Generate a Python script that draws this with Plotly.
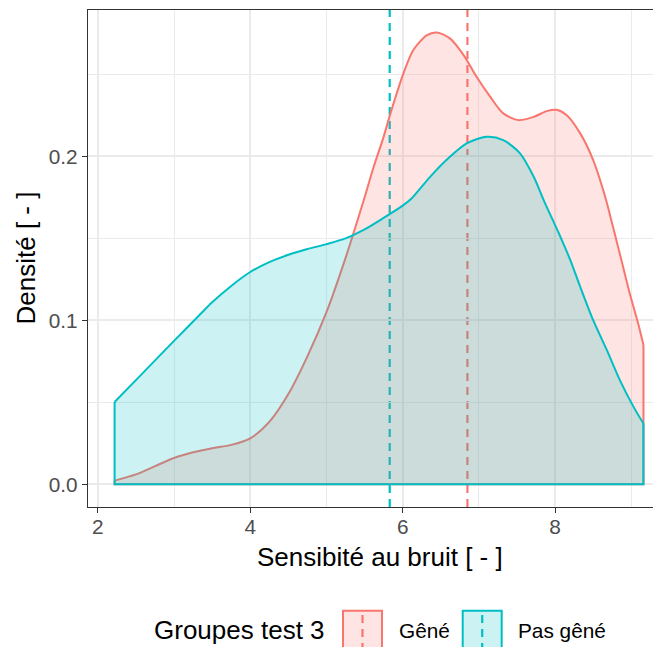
import plotly.graph_objects as go

# ---------------- data ----------------
groups = ["Gêné", "Pas gêné"]
group_means = [6.85, 5.83]

gene_x = [2.22, 2.5, 2.75, 3.0, 3.25, 3.5, 3.75, 4.0, 4.25, 4.5, 4.75, 5.0,
          5.25, 5.49, 5.62, 5.75, 5.84, 6.01, 6.14, 6.32, 6.45, 6.62, 6.80,
          6.97, 7.15, 7.32, 7.52, 7.72, 7.89, 8.02, 8.15, 8.33, 8.50, 8.66,
          8.76, 8.87, 8.98, 9.09, 9.16]
gene_y = [0.0022, 0.006, 0.011, 0.016, 0.0195, 0.022, 0.024, 0.028, 0.038,
          0.055, 0.078, 0.105, 0.138, 0.1734, 0.1937, 0.212, 0.2263, 0.2507,
          0.265, 0.2741, 0.2757, 0.2721, 0.2619, 0.2487, 0.2364, 0.2263,
          0.2222, 0.2242, 0.2277, 0.2285, 0.2253, 0.2141, 0.1978, 0.175,
          0.1571, 0.1368, 0.1164, 0.0981, 0.0849]

pas_x = [2.22, 2.5, 3.0, 3.35, 3.5, 3.75, 4.0, 4.25, 4.5, 4.75, 5.0, 5.25,
         5.5, 5.75, 6.0, 6.12, 6.36, 6.62, 6.84, 7.10, 7.32, 7.54, 7.72,
         7.85, 8.07, 8.20, 8.33, 8.50, 8.68, 8.85, 9.03, 9.16]
pas_y = [0.0502, 0.0635, 0.0875, 0.104, 0.111, 0.121, 0.1295, 0.1355, 0.140,
         0.1435, 0.1465, 0.150, 0.1555, 0.1625, 0.170, 0.1745, 0.1876,
         0.1998, 0.208, 0.212, 0.210, 0.2019, 0.1876, 0.1734, 0.151, 0.1368,
         0.1205, 0.1001, 0.0818, 0.0635, 0.0472, 0.037]

x_ticks = [2, 4, 6, 8]
y_ticks = [0.0, 0.1, 0.2]
y_tick_labels = ["0.0", "0.1", "0.2"]

x_title = "Sensibité au bruit [ - ]"
y_title = "Densité [ - ]"
legend_title = "Groupes test 3"

# ---------------- styling ----------------
line_colors = ["#F8766D", "#00BFC4"]
fill_colors = ["rgba(248,118,109,0.2)", "rgba(0,191,196,0.2)"]
FONT = "Liberation Sans, Arial, sans-serif"

OFF = 8  # default page body margin
W, H = 661 - OFF, 647 - OFF
# plot area in page pixels: left 88, top 10, bottom 507, right = window edge
L, T = 88 - OFF, 10 - OFF
B = H - (507 - OFF)
R = 0
PW, PH = W - L - R, H - T - B


def px2paper_x(px):  # page pixel -> paper
    return (px - OFF - L) / PW


def px2paper_y(py):
    return (H - B - (py - OFF)) / PH


fig = go.Figure()

series = [(gene_x, gene_y), (pas_x, pas_y)]

# vertical mean lines (drawn below densities)
for i, m in enumerate(group_means):
    fig.add_shape(type="line", xref="x", yref="paper", x0=m, x1=m, y0=0, y1=1,
                  line=dict(color=line_colors[i], width=2.2, dash="8px,6px"),
                  layer="below")

for i, (xs, ys) in enumerate(series):
    fig.add_trace(go.Scatter(
        x=xs, y=ys, mode="lines",
        line=dict(color=line_colors[i], width=2, shape="spline", smoothing=0.8),
        fill="tozeroy", fillcolor=fill_colors[i], showlegend=False, hoverinfo="skip"))
    fig.add_trace(go.Scatter(
        x=[xs[0], xs[0], xs[-1], xs[-1]], y=[ys[0], 0, 0, ys[-1]], mode="lines",
        line=dict(color=line_colors[i], width=2), showlegend=False, hoverinfo="skip"))

axis_common = dict(
    showgrid=True, gridcolor="#EBEBEB", gridwidth=2,
    zeroline=False, ticks="outside", ticklen=5, tickwidth=1.3, tickcolor="#333333",
    showline=True, linecolor="#333333", linewidth=1.3,
    tickfont=dict(family=FONT, size=20.8, color="#4D4D4D"),
)

fig.update_layout(
    width=W, height=H,
    margin=dict(l=L, r=R, t=T, b=B, pad=0),
    paper_bgcolor="white", plot_bgcolor="white",
    showlegend=False,
    font=dict(family=FONT),
    xaxis=dict(range=[1.871, 9.39], tickvals=x_ticks, mirror=True, ticklabelstandoff=-4,
               minor=dict(tickvals=[3, 5, 7, 9], showgrid=True, gridcolor="#EBEBEB", gridwidth=1.1, ticks=""),
               **axis_common),
    yaxis=dict(range=[-0.0139, 0.2894], tickvals=y_ticks, ticktext=y_tick_labels,
               minor=dict(tickvals=[0.05, 0.15, 0.25], showgrid=True, gridcolor="#EBEBEB", gridwidth=1.1, ticks=""),
               **axis_common),
)

# axis titles
fig.add_annotation(text=x_title, xref="paper", yref="paper",
                   x=px2paper_x(380), y=px2paper_y(557), xanchor="center", yanchor="middle",
                   showarrow=False, font=dict(family=FONT, size=26, color="black"))
fig.add_annotation(text=y_title, xref="paper", yref="paper", textangle=-90,
                   x=px2paper_x(25), y=px2paper_y(258.5), xanchor="center", yanchor="middle",
                   showarrow=False, font=dict(family=FONT, size=26, color="black"))

# manual legend
fig.add_annotation(text=legend_title, xref="paper", yref="paper",
                   x=px2paper_x(152), y=px2paper_y(630), xanchor="left", yanchor="middle",
                   showarrow=False, font=dict(family=FONT, size=26, color="black"))
key_left = [343, 462.7]
label_left = [397, 516]
key_w, key_top, key_bot = 39, 610.7, 651
for i, g in enumerate(groups):
    x0, x1 = px2paper_x(key_left[i]), px2paper_x(key_left[i] + key_w)
    y0, y1 = px2paper_y(key_bot), px2paper_y(key_top)
    fig.add_shape(type="rect", xref="paper", yref="paper", x0=x0, x1=x1, y0=y0, y1=y1,
                  fillcolor=fill_colors[i], line=dict(color=line_colors[i], width=2))
    xm = (x0 + x1) / 2
    fig.add_shape(type="line", xref="paper", yref="paper", x0=xm, x1=xm, y0=y0, y1=y1,
                  line=dict(color=line_colors[i], width=2.2, dash="8px,6px"))
    fig.add_annotation(text=g, xref="paper", yref="paper",
                       x=px2paper_x(label_left[i]), y=px2paper_y(630), xanchor="left", yanchor="middle",
                       showarrow=False, font=dict(family=FONT, size=20.8, color="black"))

fig.write_html("out.html")
